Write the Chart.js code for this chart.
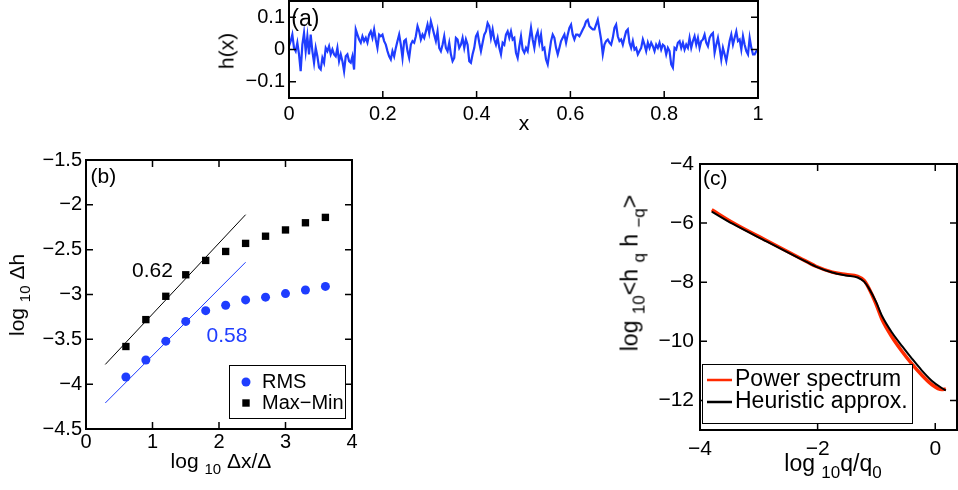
<!DOCTYPE html>
<html>
<head>
<meta charset="utf-8">
<script src="https://cdn.jsdelivr.net/npm/chart.js@4.4.1/dist/chart.umd.min.js"></script>
<style>
  body { margin: 0; background: #fff; width: 958px; height: 490px; overflow: hidden; position: relative;
         font-family: "Liberation Sans", Arial, sans-serif; color: #000; }
  canvas { position: absolute; left: 0; top: 0; }
  .lbl { position: absolute; font-size: 21px; white-space: nowrap; line-height: 1; transform: translate(-50%, -50%); }
  .rot { transform: translate(-50%, -50%) rotate(-90deg); }
  .lbl sub { font-size: 15px; vertical-align: -6px; }
  .big { font-size: 23px; }
  .big sub { font-size: 17px; vertical-align: -7px; }
</style>
</head>
<body>
<canvas id="chartA" width="958" height="490"></canvas>
<canvas id="chartB" width="958" height="490"></canvas>
<canvas id="chartC" width="958" height="490"></canvas>

<div class="lbl rot" style="left:226px; top:51px;">h(x)</div>
<div class="lbl" style="left:524px; top:122px;">x</div>
<div class="lbl rot" style="left:19px; top:295px;">log <sub>10</sub> &Delta;h</div>
<div class="lbl" style="left:221px; top:463px;">log <sub>10</sub> &Delta;x/&Delta;</div>
<div class="lbl big rot" style="left:633px; top:273px;">log <sub>10</sub>&lt;h <sub>q</sub> h <sub>&minus;q</sub>&gt;</div>
<div class="lbl big" style="left:833px; top:466px;">log <sub>10</sub>q/q<sub>0</sub></div>

<script>
// (a) surface profile h(x) at even steps in x
var hY = [
  0.010, 0.026, 0.046, 0.005, -0.005, 0.021, -0.015, -0.067, 0.015, 0.051,
  -0.005, 0.041, -0.015, 0.046, -0.005, -0.041, 0.005, -0.021, -0.056, -0.062,
  -0.026, -0.041, 0.005, -0.005, 0.010, -0.015, 0.000, -0.015, -0.021, 0.005,
  -0.036, -0.015, -0.036, -0.067, -0.021, -0.015, -0.036, -0.041, -0.021, -0.062,
  0.062, 0.046, 0.031, 0.021, 0.041, 0.026, 0.036, 0.021, 0.046, 0.056,
  0.036, 0.062, 0.031, 0.005, 0.046, 0.041,
  0.046, 0.026, 0.015, -0.005, -0.021, -0.031, -0.005, -0.021, 0.005, 0.026,
  0.046, 0.015, -0.026, 0.026, 0.031, -0.005, -0.026, 0.015, 0.026, 0.021,
  0.041, 0.072, 0.056, 0.031, 0.046, 0.036, 0.056, 0.077, 0.051, 0.087,
  0.067, 0.046, 0.026, 0.056, 0.005, -0.005, 0.015, 0.041, 0.005, -0.005,
  0.021, -0.015, -0.036, -0.026, 0.036, 0.031, 0.005, 0.015, 0.036, 0.005,
  0.031, 0.015, -0.036, -0.041, -0.015, 0.005,
  0.041, 0.051, 0.021, -0.005, 0.021, 0.046, 0.056, 0.082, 0.072, 0.036,
  0.062, 0.031, 0.015, 0.036, 0.005, -0.015, 0.021, 0.015, 0.046, 0.056,
  0.036, 0.056, 0.031, 0.036, -0.010, -0.026, 0.010, 0.041, 0.000, -0.010,
  0.005, -0.005, 0.031, 0.067, 0.031, 0.005, 0.041, 0.056, 0.021, 0.046,
  0.000, 0.005, -0.031, -0.046, -0.010, 0.026, 0.046, 0.036, 0.005, -0.015,
  0.005, 0.026, 0.036, 0.046, 0.021, 0.046,
  0.067, 0.077, 0.046, 0.031, 0.046, 0.046, 0.041, 0.051, 0.062, 0.072,
  0.087, 0.092, 0.072, 0.067, 0.062, 0.062, 0.077, 0.092, 0.062, 0.031,
  -0.015, 0.015, 0.026, 0.031, 0.021, 0.015, 0.036, 0.067, 0.077, 0.041,
  0.026, 0.031, 0.015, 0.036, 0.056, 0.062, 0.021, 0.005, 0.026, 0.000,
  0.005, -0.015, -0.005, 0.005, 0.031, 0.015, -0.005, 0.021, 0.005, 0.021,
  0.010, -0.005, 0.015, 0.005, 0.021, 0.000, 0.015,
  0.010, -0.015, 0.005, -0.005, -0.046, -0.056, 0.005, 0.000, 0.021, 0.026,
  0.005, 0.021, 0.000, 0.015, 0.005, 0.036, 0.005, 0.026, 0.041, 0.015,
  0.036, 0.005, 0.026, 0.031, 0.046, 0.021, 0.010, 0.036, 0.046, 0.051,
  -0.010, 0.015, 0.036, 0.005, -0.031, 0.005, -0.015, -0.036, -0.005, 0.026,
  0.046, 0.015, 0.036, 0.056, 0.026, 0.031, 0.000, 0.041, 0.015, -0.005,
  -0.015, 0.036, 0.005, -0.015, -0.015, -0.005, 0.000
];
var xTicksA = [0, 0.2, 0.4, 0.6, 0.8, 1];
var yTicksA = [-0.1, 0, 0.1];

// (b) scaling of the height difference
var logDx = [0.6, 0.9, 1.2, 1.5, 1.8, 2.1, 2.4, 2.7, 3.0, 3.3, 3.6];
var rms = [-3.92, -3.73, -3.52, -3.30, -3.18, -3.12, -3.06, -3.03, -2.99, -2.95, -2.91];
var maxMin = [-3.58, -3.28, -3.02, -2.78, -2.62, -2.52, -2.43, -2.35, -2.28, -2.20, -2.14];
var fitX = [0.29, 2.4];
var fitMaxMin = [-3.78, -2.11];
var fitRms = [-4.21, -2.64];
var xTicksB = [0, 1, 2, 3, 4];
var yTicksB = [-4.5, -4, -3.5, -3, -2.5, -2, -1.5];

// (c) power spectrum
var logQ = [-3.80, -3.44, -2.87, -2.31, -2.03, -1.75, -1.52, -1.32, -1.21, -1.13, -1.01, -0.90, -0.73, -0.56, -0.39, -0.23, -0.06, 0.11, 0.18];
var power = [-5.55, -5.99, -6.59, -7.17, -7.46, -7.66, -7.74, -7.80, -7.94, -8.20, -8.72, -9.28, -9.87, -10.35, -10.78, -11.14, -11.46, -11.63, -11.62];
var heuristic = [-5.61, -6.03, -6.62, -7.19, -7.47, -7.67, -7.77, -7.84, -7.98, -8.20, -8.65, -9.16, -9.72, -10.17, -10.60, -10.98, -11.33, -11.58, -11.66];
var xTicksC = [-4, -2, 0];
var yTicksC = [-12, -10, -8, -6, -4];

var blue = '#1f3dff';
var red = '#ff2a00';
var FONT = '"Liberation Sans", Arial, sans-serif';
Chart.defaults.font.family = FONT;
Chart.defaults.color = '#000';

function pts(xs, ys) {
    return xs.map(function (x, i) { return { x: x, y: ys[i] }; });
}
function fmt(v) {
    return String(+(+v).toFixed(2)).replace('-', '\u2212');
}
function fixSize(size) {
    return function (s) {
        if (s.isHorizontal()) s.height = size; else s.width = size;
        s.paddingLeft = s.paddingRight = s.paddingTop = s.paddingBottom = 0;
    };
}
function axis(min, max, ticks, pad, size, fontSize) {
    return {
        type: 'linear', min: min, max: max,
        afterBuildTicks: function (s) { s.ticks = ticks.map(function (v) { return { value: v }; }); },
        afterFit: fixSize(size),
        grid: { display: false, drawTicks: false },
        border: { display: false },
        ticks: { padding: pad, autoSkip: false, maxRotation: 0, font: { size: fontSize }, callback: fmt }
    };
}

// box, inward ticks on all four sides, in-plot texts and legend
var frame = {
    id: 'frame',
    afterDraw: function (chart, args, o) {
        var ctx = chart.ctx, a = chart.chartArea, sx = chart.scales.x, sy = chart.scales.y;
        ctx.save();
        ctx.strokeStyle = '#000';
        ctx.lineWidth = 1.5;
        ctx.beginPath();
        sx.ticks.forEach(function (t) {
            var p = sx.getPixelForValue(t.value);
            ctx.moveTo(p, a.bottom); ctx.lineTo(p, a.bottom - 7);
            ctx.moveTo(p, a.top); ctx.lineTo(p, a.top + 7);
        });
        sy.ticks.forEach(function (t) {
            var p = sy.getPixelForValue(t.value);
            ctx.moveTo(a.left, p); ctx.lineTo(a.left + 7, p);
            ctx.moveTo(a.right, p); ctx.lineTo(a.right - 7, p);
        });
        ctx.stroke();
        ctx.lineWidth = 2;
        ctx.strokeRect(a.left, a.top, a.right - a.left, a.bottom - a.top);

        ctx.textAlign = 'center';
        ctx.textBaseline = 'middle';
        (o.texts || []).forEach(function (t) {
            ctx.font = t.size + 'px ' + FONT;
            ctx.fillStyle = t.color || '#000';
            ctx.fillText(t.text, sx.getPixelForValue(t.x), sy.getPixelForValue(t.y));
        });

        var lg = o.legend;
        if (lg) {
            ctx.fillStyle = '#fff';
            ctx.fillRect(lg.x, lg.y, lg.w, lg.h);
            ctx.lineWidth = 1;
            ctx.strokeStyle = '#000';
            ctx.strokeRect(lg.x + 0.5, lg.y + 0.5, lg.w, lg.h);
            ctx.font = lg.size + 'px ' + FONT;
            ctx.textAlign = 'left';
            lg.items.forEach(function (it) {
                ctx.fillStyle = it.color;
                ctx.strokeStyle = it.color;
                if (it.kind === 'circle') {
                    ctx.beginPath(); ctx.arc(lg.mx, it.y, 4.5, 0, Math.PI * 2); ctx.fill();
                } else if (it.kind === 'square') {
                    ctx.fillRect(lg.mx - 3.7, it.y - 3.7, 7.4, 7.4);
                } else {
                    ctx.lineWidth = it.width;
                    ctx.beginPath(); ctx.moveTo(lg.mx - 12, it.y); ctx.lineTo(lg.mx + 13, it.y); ctx.stroke();
                }
                ctx.fillStyle = '#000';
                ctx.fillText(it.label, lg.tx, it.y);
            });
        }
        ctx.restore();
    }
};

var base = {
    responsive: false,
    animation: false,
    events: [],
    plugins: { legend: { display: false }, tooltip: { enabled: false } }
};
function opts(pad, scales, frameOpts) {
    return Object.assign({}, base, {
        layout: { padding: pad },
        scales: scales,
        plugins: Object.assign({}, base.plugins, { frame: frameOpts })
    });
}

new Chart('chartA', {
    type: 'line',
    data: {
        datasets: [{
            data: pts(hY.map(function (_, i) { return i / (hY.length - 1); }), hY),
            borderColor: blue, borderWidth: 2.2, pointRadius: 0, tension: 0
        }]
    },
    options: opts({ left: 229, top: 1, right: 200, bottom: 352 },
        { x: axis(0, 1, xTicksA, 4, 40, 20), y: axis(-0.15, 0.15, yTicksA, 4, 60, 20) },
        { texts: [{ text: '(a)', x: 0.035, y: 0.092, size: 23 }] }),
    plugins: [frame]
});

new Chart('chartB', {
    type: 'scatter',
    data: {
        datasets: [
            { data: pts(fitX, fitMaxMin), showLine: true, borderColor: '#000', borderWidth: 1, pointRadius: 0, order: 3 },
            { data: pts(fitX, fitRms), showLine: true, borderColor: blue, borderWidth: 1, pointRadius: 0, order: 3 },
            { data: pts(logDx, rms), pointStyle: 'circle', pointRadius: 4.5, backgroundColor: blue, borderColor: blue, borderWidth: 0, order: 1 },
            { data: pts(logDx, maxMin), pointStyle: 'rect', pointRadius: 5.2, backgroundColor: '#000', borderColor: '#000', borderWidth: 0, order: 1 }
        ]
    },
    options: opts({ left: 26, top: 160, right: 606, bottom: 21 },
        { x: axis(0, 4, xTicksB, 1, 40, 20), y: axis(-4.5, -1.5, yTicksB, 4, 60, 20) },
        {
            texts: [
                { text: '(b)', x: 0.26, y: -1.69, size: 21 },
                { text: '0.62', x: 1.0, y: -2.735, size: 21 },
                { text: '0.58', x: 2.12, y: -3.466, size: 21, color: blue }
            ],
            legend: {
                x: 229, y: 365, w: 116, h: 53, size: 20, mx: 246, tx: 262,
                items: [
                    { label: 'RMS', kind: 'circle', color: blue, y: 382 },
                    { label: 'Max\u2212Min', kind: 'square', color: '#000', y: 403 }
                ]
            }
        }),
    plugins: [frame]
});

new Chart('chartC', {
    type: 'scatter',
    data: {
        datasets: [
            { data: pts(logQ, power), showLine: true, borderColor: red, borderWidth: 3.5, pointRadius: 0, cubicInterpolationMode: 'monotone', order: 2 },
            { data: pts(logQ, heuristic), showLine: true, borderColor: '#000', borderWidth: 2, pointRadius: 0, cubicInterpolationMode: 'monotone', order: 1 }
        ]
    },
    options: opts({ left: 640, top: 164, right: 1, bottom: 20 },
        { x: axis(-4, 0.37, xTicksC, 7, 40, 21), y: axis(-13, -4, yTicksC, 6, 60, 21) },
        {
            texts: [{ text: '(c)', x: -3.74, y: -4.5, size: 21 }],
            legend: {
                x: 702, y: 364, w: 210, h: 59, size: 23, mx: 719, tx: 735,
                items: [
                    { label: 'Power spectrum', kind: 'line', color: red, width: 2.5, y: 380 },
                    { label: 'Heuristic approx.', kind: 'line', color: '#000', width: 2.5, y: 402 }
                ]
            }
        }),
    plugins: [frame]
});
</script>
</body>
</html>
